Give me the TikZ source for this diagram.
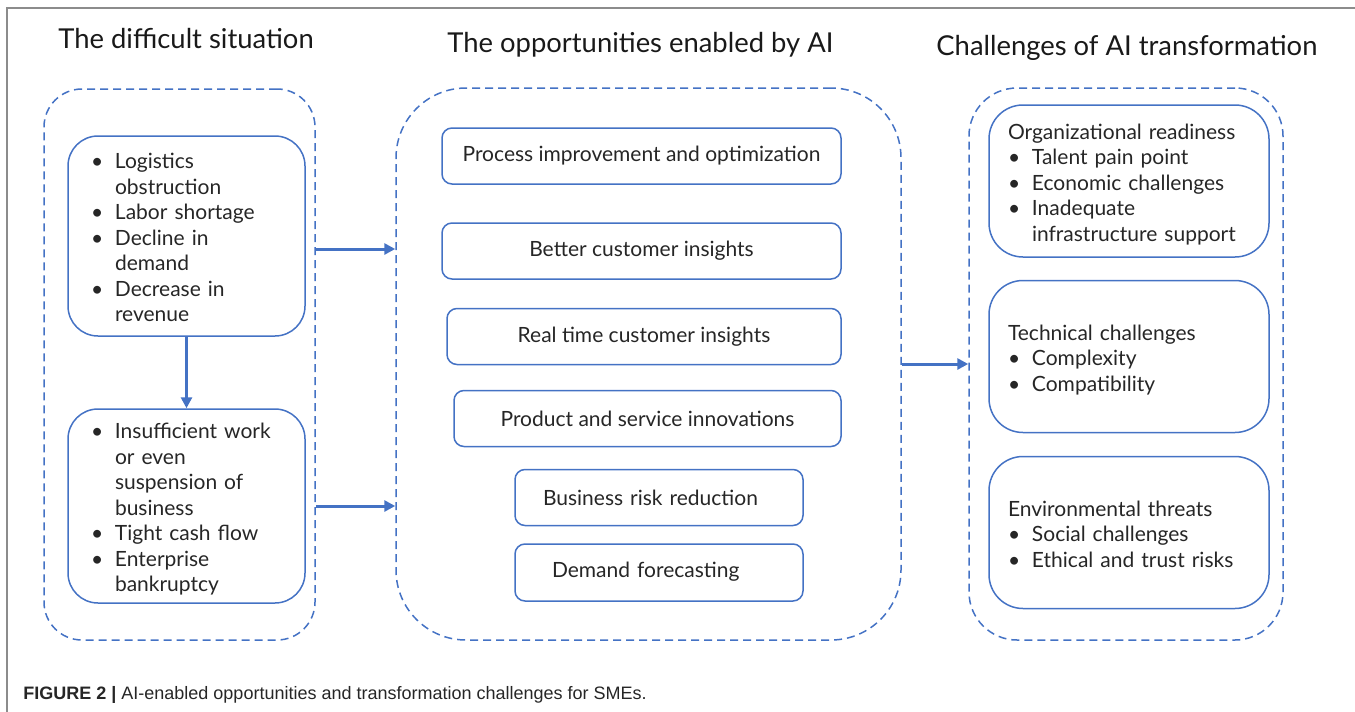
\documentclass[tikz,border=0pt]{standalone}
\usepackage{fontspec}
\setmainfont{Lato}
\newfontfamily\capfont{Liberation Sans}
\usetikzlibrary{arrows.meta,calc}
\definecolor{boxblue}{HTML}{4472C4}
\definecolor{framegray}{HTML}{8C8C8C}
\definecolor{txt}{HTML}{262626}
\newcommand{\bul}{\makebox[12pt][l]{\textbullet}}

\begin{document}
\begin{tikzpicture}[x=0.5pt, y=-0.5pt,
  title/.style={anchor=base west, inner sep=0pt, font=\fontsize{13.7}{16}\selectfont, text=black!90},
  outer/.style={draw=boxblue, line width=0.75pt, dash pattern=on 4pt off 2.5pt, inner sep=0pt},
  lbox/.style={draw=boxblue, line width=0.75pt, rounded corners=15pt, minimum width=118.5pt,
    text width=95.5pt, inner xsep=11pt, inner ysep=1.5pt, align=left, text=txt, font=\fontsize{10.5}{12.75}\selectfont},
  obox/.style={draw=boxblue, line width=0.75pt, rounded corners=5pt, minimum height=28pt,
    text=txt, font=\fontsize{10.5}{12.75}\selectfont},
  cbox/.style={draw=boxblue, line width=0.75pt, rounded corners=17pt, minimum width=140pt, minimum height=76pt,
    text width=121pt, inner xsep=9.5pt, align=left, text=txt, font=\fontsize{10.5}{12.75}\selectfont},
  flow/.style={draw=boxblue, line width=1.5pt, -{Triangle[length=5.5pt,width=5.5pt]}}]
\useasboundingbox (0,0) rectangle (1355,712);
% frame
\draw[framegray, line width=0.75pt] (7,712) -- (7,8) -- (1355,8);
% titles
\node[title] (t1) at (58,48) {The difficult situation};
\node[title] (t2) at (447,52) {The opportunities enabled by AI};
\node[title] (t3) at (936,55) {Challenges of AI transformation};
% dashed groups
\node[outer, rounded corners=19pt, minimum width=135.5pt, minimum height=275.5pt] (sit) at (179.5,364.5) {};
\node[outer, rounded corners=35pt, minimum width=252.5pt, minimum height=276pt] (opp) at (648.5,364) {};
\node[outer, rounded corners=24pt, minimum width=157pt, minimum height=276pt] (chl) at (1126,364) {};
% difficult situation
\node[lbox, minimum height=100pt] (sa) at (186.5,236) {\begin{tabular}{@{}l@{}l@{}}\noalign{\vskip4pt}
\bul & Logistics\\
 & obstruction\\
\bul & Labor shortage\\
\bul & Decline in\\
 & demand\\
\bul & Decrease in\\
 & revenue
\end{tabular}};
\node[lbox, minimum height=97pt] (sb) at (186.5,506) {\begin{tabular}{@{}l@{}l@{}}\noalign{\vskip4pt}
\bul & Insufficient work\\
 & or even\\
 & suspension of\\
 & business\\
\bul & Tight cash flow\\
\bul & Enterprise\\
 & bankruptcy
\end{tabular}};
% opportunities
\node[obox, minimum width=199.5pt] (o1) at (641.5,156) {Process improvement and optimization};
\node[obox, minimum width=199.5pt] (o2) at (641.5,251) {Better customer insights};
\node[obox, minimum width=197pt] (o3) at (644,336.5) {Real time customer insights};
\node[obox, minimum width=193.5pt] (o4) at (647.5,418.5) {Product and service innovations};
\node[obox, minimum width=144pt, text width=116pt, inner xsep=14pt, align=left] (o5) at (659,497.5) {Business risk reduction};
\node[obox, minimum width=144pt, minimum height=28.5pt, text width=107pt, inner xsep=18.5pt, align=left] (o6) at (659,572.5) {\raisebox{2.5pt}{Demand forecasting}};
% challenges
\node[cbox] (c1) at (1129,181) {\begin{tabular}{@{}l@{}l@{}}\noalign{\vskip4pt}
\multicolumn{2}{@{}l@{}}{Organizational readiness}\\
\bul & Talent pain point\\
\bul & Economic challenges\\
\bul & Inadequate\\
 & infrastructure support
\end{tabular}};
\node[cbox] (c2) at (1129,356.5) {\begin{tabular}{@{}l@{}l@{}}\noalign{\vskip4pt}
\multicolumn{2}{@{}l@{}}{Technical challenges}\\
\bul & Complexity\\
\bul & Compatibility
\end{tabular}};
\node[cbox] (c3) at (1129,532.5) {\begin{tabular}{@{}l@{}l@{}}\noalign{\vskip4pt}
\multicolumn{2}{@{}l@{}}{Environmental threats}\\
\bul & Social challenges\\
\bul & Ethical and trust risks
\end{tabular}};
% arrows
\draw[flow] (sa.south) -- (sb.north);
\draw[flow] ($(sit.east |- sa.east)+(0,13)$) -- ($(opp.west |- sa.east)+(0,13)$);
\draw[flow] (sit.east |- sb.east) -- (opp.west |- sb.east);
\draw[flow] (opp.east) -- (chl.west);
% caption
\node[anchor=base west, inner sep=0pt, font=\capfont\fontsize{9}{11}\selectfont, text=black!85] (cap) at (23,699)
  {\textbf{FIGURE 2 |} AI-enabled opportunities and transformation challenges for SMEs.};
\end{tikzpicture}
\end{document}
